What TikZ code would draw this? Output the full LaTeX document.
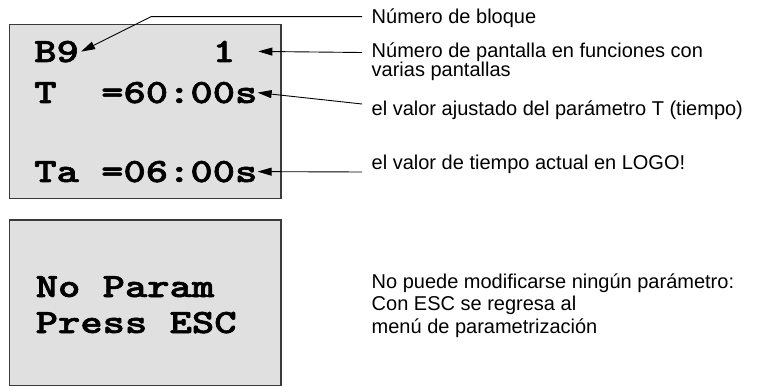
\documentclass[tikz,border=0pt]{standalone}
\usepackage{fontspec}
\setmainfont{Liberation Sans}
\newfontfamily\lcdfont{lmmonolt10-bold.otf}[FakeBold=1.6]
\definecolor{logoGris}{HTML}{E0E0E0}
\definecolor{logoBorde}{HTML}{3A3A3A}
\usetikzlibrary{
	arrows.meta,
	positioning,
	calc
}

\tikzset{
	pantalla/.style={draw=logoBorde, fill=logoGris, line width=1.2pt},
	display/.style={font=\fontsize{34}{34}\selectfont\lcdfont, inner sep=0pt, anchor=base west, xscale=1.25, transform shape},
	etiqueta/.style={font=\fontsize{20}{19}\selectfont, inner sep=0pt, anchor=base west, align=left},
	flecha/.style={-{Triangle[length=14pt,width=8pt]}, line width=0.9pt}
}

\begin{document}
\begin{tikzpicture}[x=1pt,y=-1pt]
		\useasboundingbox (0,0) rectangle (759,387);
		
		% Pantallas del LOGO!
		\draw[pantalla] (9.5,24.3) rectangle (281,198.3);
		\draw[pantalla] (9.5,220) rectangle (281,385.5);
		
		% Primera pantalla
		\node[display] (txtB9) at (34,62) {B9};
		\node[display] (txtUno) at (212.5,62) {1};
		\node[display] (txtT) at (34,103) {T\ \ =60:00s};
		\node[display] (txtTa) at (34,182) {Ta\ =06:00s};
		
		% Segunda pantalla
		\node[display] (txtNoParam) at (35.5,297) {No Param};
		\node[display] (txtPress) at (35.5,333) {Press ESC};
		
		% Textos explicativos (base = ultima linea)
		\node[etiqueta] (lblBloque) at (371.5,24) {Número de bloque};
		\node[etiqueta] (lblPantalla) at (371.5,77) {Número de pantalla en funciones con\\varias pantallas};
		\node[etiqueta] (lblAjustado) at (371.5,116) {el valor ajustado del parámetro T (tiempo)};
		\node[etiqueta] (lblActual) at (371.5,170) {el valor de tiempo actual en LOGO!};
		\node[etiqueta, font=\fontsize{20}{22.5}\selectfont] (lblNoParam) at (371.5,333)
			{No puede modificarse ningún parámetro:\\Con ESC se regresa al\\menú de parametrización};
		
		% Extremos libres de las flechas
		\coordinate (inicioBloque) at (362,16.7);
		\coordinate (codoBloque) at (151,16.7);
		\coordinate (inicioPantalla) at (362,52.5);
		\coordinate (inicioAjustado) at (362,104);
		\coordinate (inicioActual) at (362,172);
		\coordinate (puntaUno) at ([xshift=23pt]txtUno.east);
		
		% Flechas
		\draw[flecha] (inicioBloque) -- (codoBloque) -- ([xshift=2pt]txtB9.east);
		\foreach \ini/\fin in {inicioPantalla/puntaUno, inicioAjustado/txtT.east, inicioActual/txtTa.east}{
			\draw[flecha] (\ini) -- (\fin);
		}
		
	\end{tikzpicture}
\end{document}
